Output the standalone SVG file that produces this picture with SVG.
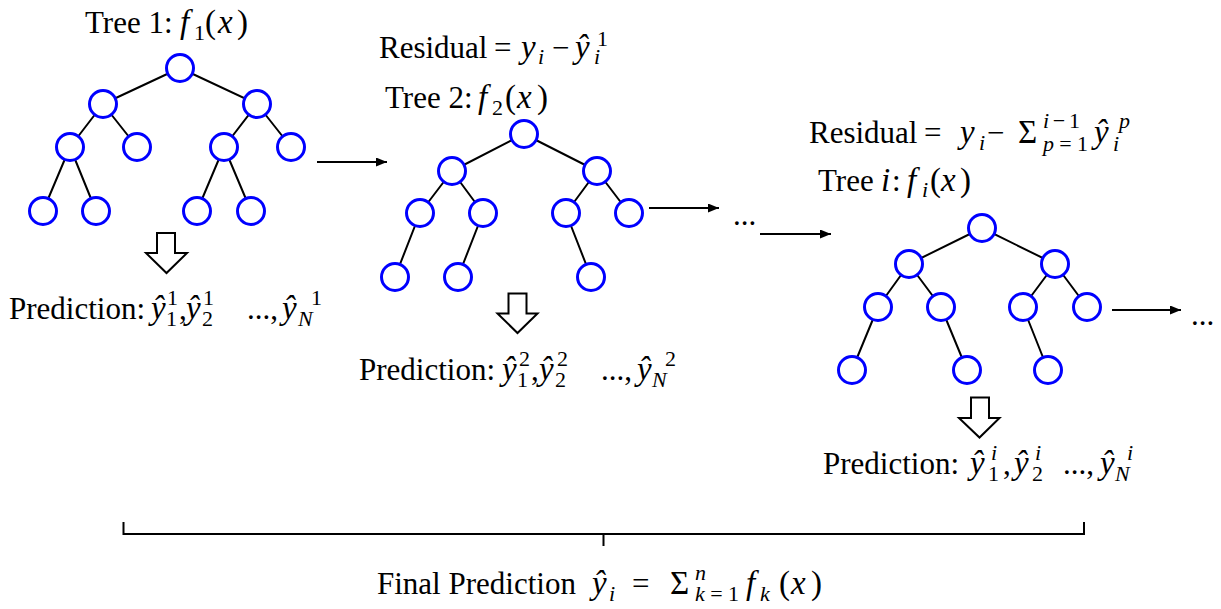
<svg xmlns="http://www.w3.org/2000/svg" width="1221" height="609" viewBox="0 0 1221 609">
<style>
.t{font-family:"Liberation Serif","Times New Roman",serif;font-size:31px;fill:#000}
.i{font-style:italic}
.m{font-size:33px}
.s{font-size:22px}
.n{fill:#fff;stroke:#0000ff;stroke-width:3}
.e{stroke:#000;stroke-width:2;fill:none}
.a{stroke:#000;stroke-width:2;fill:none;marker-end:url(#ah)}
.b{fill:#fff;stroke:#000;stroke-width:2;stroke-linejoin:miter}
</style>
<defs>
<marker id="ah" markerUnits="userSpaceOnUse" markerWidth="12" markerHeight="10" refX="11" refY="4.5" orient="auto">
<path d="M0,0 L11,4.5 L0,9 z" fill="#000"/>
</marker>
</defs>
<rect width="1221" height="609" fill="#fff"/>

<g id="connectors">
<path class="e" d="M180,68L103,104M180,68L257,104M103,104L70,147M103,104L137,147M257,104L224,147M257,104L291,147M70,147L43,211M70,147L96,211M224,147L197,211M224,147L251,211"/>
<path class="e" d="M524,134L452,171M524,134L597,171M452,171L420,213M452,171L483,213M597,171L566,213M597,171L629,213M420,213L395,277M483,213L458,277M566,213L591,277"/>
<path class="e" d="M982,228L909,264M982,228L1055,264M909,264L878,307M909,264L941,307M1055,264L1023,307M1055,264L1087,307M878,307L852,370M941,307L967,370M1023,307L1048,370"/>
<line class="a" x1="317" y1="162" x2="387" y2="162"/>
<line class="a" x1="649" y1="208" x2="719" y2="208"/>
<line class="a" x1="760" y1="234" x2="831" y2="234"/>
<line class="a" x1="1112" y1="310" x2="1181" y2="310"/>
<polygon class="b" points="157,233 175,233 175,253 187,253 166.5,273 146,253 157,253"/>
<polygon class="b" points="508.5,293.5 526.5,293.5 526.5,313.5 537.5,313.5 517.5,333 497.5,313.5 508.5,313.5"/>
<polygon class="b" points="971,397.5 989,397.5 989,418 999.5,418 979.5,437.5 959,418 971,418"/>
<path class="e" d="M123.5,522V534H1084V522M603.5,534V546"/>
</g>

<g id="tree1">
<g id="t1n1"><circle class="n" cx="180" cy="68" r="13.5"/></g>
<g id="t1n2"><circle class="n" cx="103" cy="104" r="13.5"/></g>
<g id="t1n3"><circle class="n" cx="257" cy="104" r="13.5"/></g>
<g id="t1n4"><circle class="n" cx="70" cy="147" r="13.5"/></g>
<g id="t1n5"><circle class="n" cx="137" cy="147" r="13.5"/></g>
<g id="t1n6"><circle class="n" cx="224" cy="147" r="13.5"/></g>
<g id="t1n7"><circle class="n" cx="291" cy="147" r="13.5"/></g>
<g id="t1n8"><circle class="n" cx="43" cy="211" r="13.5"/></g>
<g id="t1n9"><circle class="n" cx="96" cy="211" r="13.5"/></g>
<g id="t1n10"><circle class="n" cx="197" cy="211" r="13.5"/></g>
<g id="t1n11"><circle class="n" cx="251" cy="211" r="13.5"/></g>
</g>

<g id="tree2">
<g id="t2n1"><circle class="n" cx="524" cy="134" r="13.5"/></g>
<g id="t2n2"><circle class="n" cx="452" cy="171" r="13.5"/></g>
<g id="t2n3"><circle class="n" cx="597" cy="171" r="13.5"/></g>
<g id="t2n4"><circle class="n" cx="420" cy="213" r="13.5"/></g>
<g id="t2n5"><circle class="n" cx="483" cy="213" r="13.5"/></g>
<g id="t2n6"><circle class="n" cx="566" cy="213" r="13.5"/></g>
<g id="t2n7"><circle class="n" cx="629" cy="213" r="13.5"/></g>
<g id="t2n8"><circle class="n" cx="395" cy="277" r="13.5"/></g>
<g id="t2n9"><circle class="n" cx="458" cy="277" r="13.5"/></g>
<g id="t2n10"><circle class="n" cx="591" cy="277" r="13.5"/></g>
</g>

<g id="treei">
<g id="tin1"><circle class="n" cx="982" cy="228" r="13.5"/></g>
<g id="tin2"><circle class="n" cx="909" cy="264" r="13.5"/></g>
<g id="tin3"><circle class="n" cx="1055" cy="264" r="13.5"/></g>
<g id="tin4"><circle class="n" cx="878" cy="307" r="13.5"/></g>
<g id="tin5"><circle class="n" cx="941" cy="307" r="13.5"/></g>
<g id="tin6"><circle class="n" cx="1023" cy="307" r="13.5"/></g>
<g id="tin7"><circle class="n" cx="1087" cy="307" r="13.5"/></g>
<g id="tin8"><circle class="n" cx="852" cy="370" r="13.5"/></g>
<g id="tin9"><circle class="n" cx="967" cy="370" r="13.5"/></g>
<g id="tin10"><circle class="n" cx="1048" cy="370" r="13.5"/></g>
</g>

<g id="labels">
<text class="t" x="85" y="33">Tree 1:<tspan class="i m" x="180">f</tspan><tspan class="s" x="194" y="40">1</tspan><tspan class="m" x="205" y="33">(</tspan><tspan class="i m" x="218">x</tspan><tspan class="m" x="237">)</tspan></text>

<text class="t" x="379" y="58">Residual<tspan x="494">=</tspan><tspan class="i m" x="521">y</tspan><tspan class="s i" x="538" y="64">i</tspan><tspan x="552" y="58">−</tspan><tspan class="i m" x="575">ŷ</tspan><tspan class="s" x="597" y="46">1</tspan><tspan class="s i" x="594" y="64">i</tspan></text>

<text class="t" x="385" y="108">Tree 2:<tspan class="i m" x="478">f</tspan><tspan class="s" x="492" y="115">2</tspan><tspan class="m" x="505" y="108">(</tspan><tspan class="i m" x="517">x</tspan><tspan class="m" x="537">)</tspan></text>

<text class="t" x="809" y="143">Residual<tspan x="924">=</tspan><tspan class="i m" x="960">y</tspan><tspan class="s i" x="979" y="150">i</tspan><tspan x="987" y="143">−</tspan><tspan class="m" x="1018">Σ</tspan><tspan class="s" x="1043" y="128" textLength="37"><tspan class="i">i</tspan>−1</tspan><tspan class="s" x="1043" y="151" textLength="45"><tspan class="i">p</tspan>=1</tspan><tspan class="i m" x="1094" y="143">ŷ</tspan><tspan class="s i" x="1119" y="128">p</tspan><tspan class="s i" x="1113" y="151">i</tspan></text>

<text class="t" x="818" y="191">Tree<tspan class="i m" x="881">i</tspan><tspan x="892">:</tspan><tspan class="i m" x="907">f</tspan><tspan class="s i" x="922" y="197">i</tspan><tspan class="m" x="930" y="191">(</tspan><tspan class="i m" x="941">x</tspan><tspan class="m" x="960">)</tspan></text>

<text class="t" x="733" y="225">...</text>
<text class="t" x="1191" y="325">...</text>

<text class="t" x="9" y="319">Prediction:<tspan class="i m" x="151">ŷ</tspan><tspan class="s" x="167" y="305">1</tspan><tspan class="s" x="166" y="326">1</tspan><tspan x="179" y="319">,</tspan><tspan class="i m" x="186">ŷ</tspan><tspan class="s" x="203" y="305">1</tspan><tspan class="s" x="202" y="326">2</tspan><tspan x="247" y="319">...,</tspan><tspan class="i m" x="282">ŷ</tspan><tspan class="s" x="311" y="305">1</tspan><tspan class="s i" x="298" y="326">N</tspan></text>

<text class="t" x="359" y="380">Prediction:<tspan class="i m" x="502">ŷ</tspan><tspan class="s" x="519" y="366">2</tspan><tspan class="s" x="517" y="387">1</tspan><tspan x="531" y="380">,</tspan><tspan class="i m" x="539">ŷ</tspan><tspan class="s" x="557" y="366">2</tspan><tspan class="s" x="555" y="387">2</tspan><tspan x="601" y="380">...,</tspan><tspan class="i m" x="637">ŷ</tspan><tspan class="s" x="665" y="366">2</tspan><tspan class="s i" x="652" y="387">N</tspan></text>

<text class="t" x="823" y="474">Prediction:<tspan class="i m" x="970">ŷ</tspan><tspan class="s i" x="991" y="460">i</tspan><tspan class="s" x="988" y="481">1</tspan><tspan x="1003" y="474">,</tspan><tspan class="i m" x="1014">ŷ</tspan><tspan class="s i" x="1035" y="460">i</tspan><tspan class="s" x="1032" y="481">2</tspan><tspan x="1063" y="474">...,</tspan><tspan class="i m" x="1100">ŷ</tspan><tspan class="s i" x="1127" y="460">i</tspan><tspan class="s i" x="1115" y="481">N</tspan></text>

<text class="t" x="377" y="594">Final Prediction<tspan class="i m" x="592">ŷ</tspan><tspan class="s i" x="609" y="601">i</tspan><tspan x="632" y="594">=</tspan><tspan class="m" x="670">Σ</tspan><tspan class="s i" x="695" y="580">n</tspan><tspan class="s" x="695" y="601" textLength="44"><tspan class="i">k</tspan>=1</tspan><tspan class="i m" x="746" y="594">f</tspan><tspan class="s i" x="760" y="601">k</tspan><tspan class="m" x="779" y="594">(</tspan><tspan class="i m" x="791">x</tspan><tspan class="m" x="811">)</tspan></text>
</g>
</svg>
